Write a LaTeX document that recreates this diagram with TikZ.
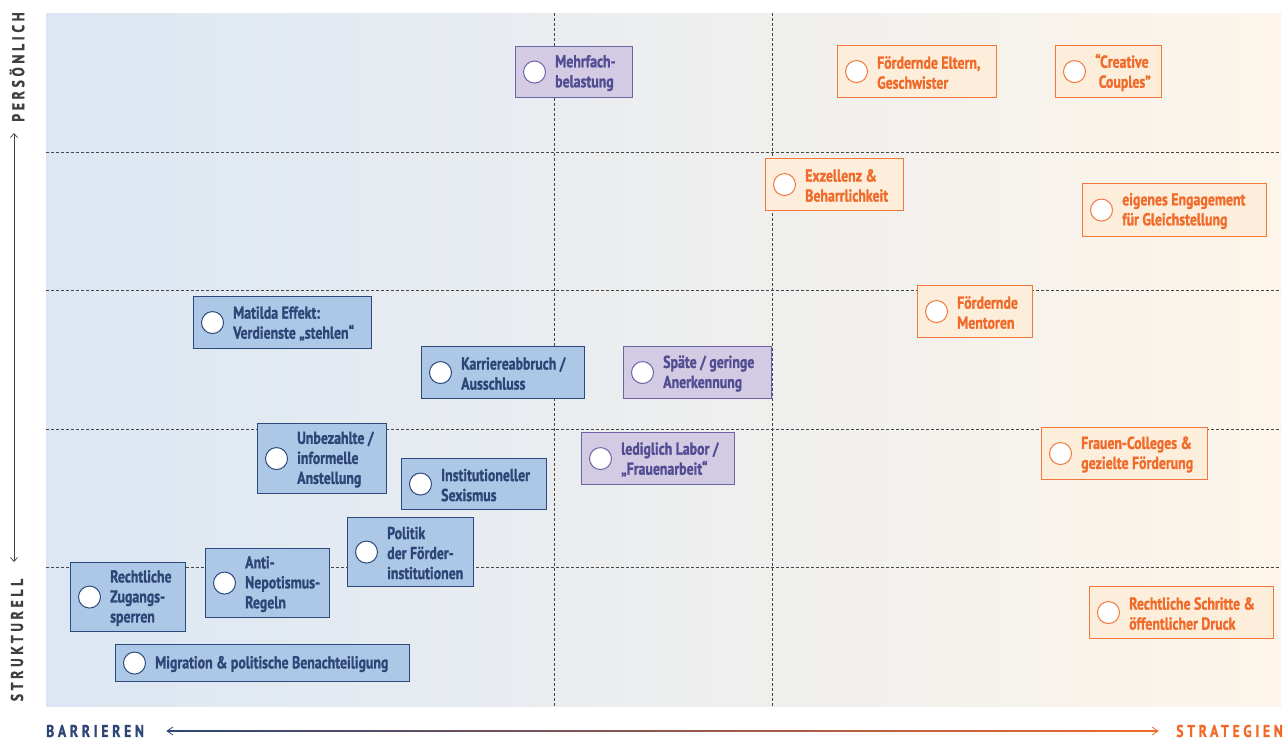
\documentclass[tikz,border=0pt]{standalone}
\usepackage{fontspec}
\setmainfont{PT Sans}[FakeStretch=0.8, BoldFeatures={FakeBold=1.2}]
\usetikzlibrary{arrows.meta}
\definecolor{bgL}{RGB}{220,231,243}
\definecolor{bgM}{RGB}{239,239,239}
\definecolor{bgR}{RGB}{253,245,234}
\definecolor{bFill}{RGB}{173,200,230}
\definecolor{bLine}{RGB}{44,74,124}
\definecolor{bText}{RGB}{46,70,119}
\definecolor{pFill}{RGB}{211,203,228}
\definecolor{pLine}{RGB}{109,100,168}
\definecolor{pText}{RGB}{82,77,146}
\definecolor{oFill}{RGB}{253,238,220}
\definecolor{oLine}{RGB}{243,120,60}
\definecolor{oText}{RGB}{240,106,42}
\definecolor{axGrey}{RGB}{64,64,64}
\definecolor{gridGrey}{RGB}{70,70,70}
\tikzset{
  boxbase/.style={rectangle, line width=1.1pt, anchor=north west, inner sep=0pt},
  txtbase/.style={anchor=west, align=left, inner sep=0pt, font=\bfseries\fontsize{17.3}{20}\selectfont},
  dotbase/.style={circle, fill=white, line width=1pt, minimum size=22pt, inner sep=0pt},
  blue/.style={boxbase, draw=bLine, fill=bFill},
  bluedot/.style={dotbase, draw=bLine},
  bluetxt/.style={txtbase, text=bText},
  purple/.style={boxbase, draw=pLine, fill=pFill},
  purpledot/.style={dotbase, draw=pLine},
  purpletxt/.style={txtbase, text=pText},
  orange/.style={boxbase, draw=oLine, fill=oFill},
  orangedot/.style={dotbase, draw=oLine},
  orangetxt/.style={txtbase, text=oText},
  gridline/.style={draw=gridGrey, line width=0.8pt, dash pattern=on 3pt off 2pt},
  axlab/.style={inner sep=0pt, font=\bfseries\fontsize{17}{20}\selectfont\addfontfeature{LetterSpace=22}},
}
\newcommand\mkentry[7]{%
  \node[#2, minimum width={#5-#3}, minimum height={#6-#4}] (#1) at (#3,#4) {};
  \node[#2dot] (#1c) at ([xshift=19.5pt]#1.west) {};
  \node[#2txt] (#1t) at ([xshift=40pt,yshift=-1pt]#1.west) {#7};
}
\begin{document}
\begin{tikzpicture}[x=1pt,y=-1pt]
\useasboundingbox (0,0) rectangle (1287,740);
% background
\shade[left color=bgL, middle color=bgM, right color=bgR] (46,13) rectangle (1281,706);
% grid
\foreach \yy in {152,290,429,567} \draw[gridline] (46,\yy) -- (1281,\yy);
\foreach \xx in {554,772} \draw[gridline] (\xx,13) -- (\xx,706);
% blue
\mkentry{b1}{blue}{70}{562}{185}{631}{Rechtliche\\Zugangs-\\sperren}
\mkentry{b2}{blue}{205}{548}{329}{617}{Anti-\\Nepotismus-\\Regeln}
\mkentry{b3}{blue}{347}{517}{473}{586}{Politik\\der Förder-\\institutionen}
\mkentry{b4}{blue}{115}{644}{409}{681}{Migration \& politische Benachteiligung}
\mkentry{b5}{blue}{257}{423}{386}{493}{Unbezahlte /\\informelle\\Anstellung}
\mkentry{b6}{blue}{401}{458}{546}{509}{Institutioneller\\Sexismus}
\mkentry{b7}{blue}{193}{296}{371}{348}{Matilda Effekt:\\Verdienste „stehlen“}
\mkentry{b8}{blue}{421}{346}{584}{398}{Karriereabbruch /\\Ausschluss}
% purple
\mkentry{p1}{purple}{515}{46}{632}{97}{Mehrfach-\\belastung}
\mkentry{p2}{purple}{623}{346}{771}{398}{Späte / geringe\\Anerkennung}
\mkentry{p3}{purple}{581}{432}{734}{484}{lediglich Labor /\\„Frauenarbeit“}
% orange
\mkentry{o1}{orange}{837}{45}{996}{97}{Fördernde Eltern,\\Geschwister}
\mkentry{o2}{orange}{1055}{45}{1161}{97}{“Creative\\\ Couples”}
\mkentry{o3}{orange}{765}{158}{903}{210}{Exzellenz \&\\Beharrlichkeit}
\mkentry{o4}{orange}{1082}{183}{1266}{236}{eigenes Engagement\\für Gleichstellung}
\mkentry{o5}{orange}{917}{285}{1032}{337}{Fördernde\\Mentoren}
\mkentry{o6}{orange}{1041}{427}{1207}{479}{Frauen-Colleges \&\\gezielte Förderung}
\mkentry{o7}{orange}{1089}{586}{1273}{638}{Rechtliche Schritte \&\\öffentlicher Druck}
% vertical axis
\node[axlab, text=axGrey, rotate=90] (pers) at (17,67) {PERSÖNLICH};
\node[axlab, text=axGrey, rotate=90] (strk) at (17,640) {STRUKTURELL};
\coordinate (vtop) at (14,133);
\coordinate (vbot) at (14,562);
\draw[axGrey, line width=0.7pt, {Straight Barb[length=4pt,width=7pt]}-{Straight Barb[length=4pt,width=7pt]}] (vtop) -- (vbot);
% horizontal axis
\node[axlab, text=bText, anchor=west] (barr) at (46,731) {BARRIEREN};
\node[axlab, text=oText, anchor=east] (strat) at (1283,731) {STRATEGIEN};
\coordinate (hl) at (167,731);
\coordinate (hr) at (1158,731);
\shade[left color=bText, middle color={rgb,255:red,200;green,105;blue,95}, right color=oText] (168,730.4) rectangle (1157,731.6);
\draw[bText, line width=0.8pt] ([xshift=6pt,yshift=-4pt]hl) -- (hl) -- ([xshift=6pt,yshift=4pt]hl);
\draw[oText, line width=0.8pt] ([xshift=-6pt,yshift=-4pt]hr) -- (hr) -- ([xshift=-6pt,yshift=4pt]hr);
\end{tikzpicture}
\end{document}
